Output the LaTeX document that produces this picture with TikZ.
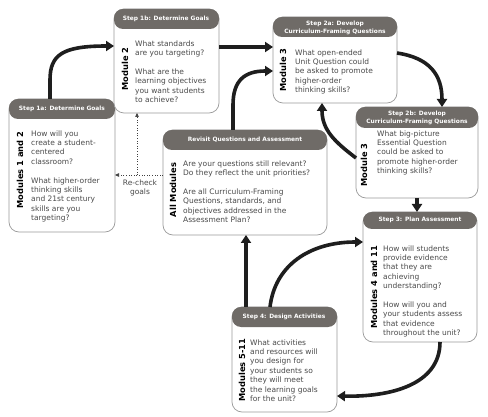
\documentclass[tikz,border=0pt]{standalone}
\usepackage{fontspec}
\setmainfont{DejaVu Sans}
\usetikzlibrary{calc,arrows.meta}
\definecolor{hdr}{HTML}{6F6B67}
\definecolor{bodytxt}{HTML}{4A4A4A}
\definecolor{edge}{HTML}{9A9A9A}
\definecolor{arr}{HTML}{1E1E1E}
\tikzset{
  stepframe/.style={draw=edge, line width=0.7pt, fill=white, rounded corners=10pt, outer sep=0pt, inner sep=0pt},
  hdrtxt/.style={text=white, font=\bfseries\fontsize{5.9}{7.6}\selectfont, align=center, inner sep=0pt},
  bodytext/.style={text=bodytxt, font=\fontsize{7.5}{9.4}\selectfont, align=left, inner sep=0pt, anchor=north west},
  modlabel/.style={text=black, font=\bfseries\fontsize{8.3}{10}\selectfont, rotate=90, inner sep=0pt},
  flow/.style={draw=arr, line width=3.6pt, -{Triangle[length=8pt,width=10pt]}},
  recheckline/.style={draw=arr!85, line width=0.6pt, dotted, -{Triangle[length=4pt,width=3.5pt]}},
}
\newcommand\mkstepbox[6]{%
  \node[stepframe, minimum width=#4pt, minimum height=#5pt, anchor=north west] (#1) at (#2,#3) {};
  \fill[hdr, rounded corners=9pt] (#1.north west) rectangle ($(#1.north east)+(0,#6)$);
}
\begin{document}
\begin{tikzpicture}[x=1pt, y=-1pt]
\useasboundingbox[fill=white] (0,0) rectangle (488,417);

% boxes
\mkstepbox{s1a}{9}{99}{106}{133}{20}
\mkstepbox{s1b}{114}{9}{105}{104}{20}
\mkstepbox{s2a}{273}{17}{124}{86}{20}
\mkstepbox{s2b}{356}{107}{122}{91}{21}
\mkstepbox{rev}{163}{130}{164}{105}{20}
\mkstepbox{s3}{363}{212}{114}{130}{17}
\mkstepbox{s4}{232}{307}{105}{105}{20}

% headers
\node[hdrtxt] (s1a-h) at (62,109) {Step 1a: Determine Goals};
\node[hdrtxt] (s1b-h) at (166,19) {Step 1b: Determine Goals};
\node[hdrtxt] (s2a-h) at (335,28) {Step 2a: Develop\\Curriculum-Framing Questions};
\node[hdrtxt] (s2b-h) at (417,118) {Step 2b: Develop\\Curriculum-Framing Questions};
\node[hdrtxt] (rev-h) at (245,140) {Revisit Questions and Assessment};
\node[hdrtxt] (s3-h) at (420,220) {Step 3: Plan Assessment};
\node[hdrtxt] (s4-h) at (284,317) {Step 4: Design Activities};

% module labels
\node[modlabel] (s1a-m) at (20,170) {Modules 1 and 2};
\node[modlabel] (s1b-m) at (125,69) {Module 2};
\node[modlabel] (s2a-m) at (283,70) {Module 3};
\node[modlabel] (s2b-m) at (364,165) {Module 3};
\node[modlabel] (rev-m) at (173,190) {All Modules};
\node[modlabel] (s3-m) at (374,287) {Modules 4 and 11};
\node[modlabel] (s4-m) at (242,370) {Modules 5-11};

% body texts
\node[bodytext] (s1a-t) at (31,130.3) {How will you\\create a student-\\centered\\classroom?\\[9.4pt]What higher-order\\thinking skills\\and 21st century\\skills are you\\targeting?};
\node[bodytext] (s1b-t) at (135,40.3) {What standards\\are you targeting?\\[9.4pt]What are the\\learning objectives\\you want students\\to achieve?};
\node[bodytext] (s2a-t) at (295,49.3) {What open-ended\\Unit Question could\\be asked to promote\\higher-order\\thinking skills?};
\node[bodytext] (s2b-t) at (377,130.3) {What big-picture\\Essential Question\\could be asked to\\promote higher-order\\thinking skills?};
\node[bodytext] (rev-t) at (183,160.3) {Are your questions still relevant?\\Do they reflect the unit priorities?\\[9.4pt]Are all Curriculum-Framing\\Questions, standards, and\\objectives addressed in the\\Assessment Plan?};
\node[bodytext] (s3-t) at (383,245.3) {How will students\\provide evidence\\that they are\\achieving\\understanding?\\[9.4pt]How will you and\\your students assess\\that evidence\\throughout the unit?};
\node[bodytext] (s4-t) at (250,339.3) {What activities\\and resources will\\you design for\\your students so\\they will meet\\the learning goals\\for the unit?};

% flow arrows
\draw[flow] ($(s1a.north west)+(41,0)$) -- ++(0,-19) .. controls +(0,-25) and ($(s1b.north west)+(-52,37)$) .. ($(s1b.north west)+(0,37)$);
\draw[flow] ($(s1b.north east)+(0,38)$) -- ($(s2a.north west)+(0,30)$);
\draw[flow] ($(rev.north west)+(70,0)$) -- ++(0,-25) .. controls +(0,-25) and ($(s2a.north west)+(-28,54)$) .. ($(s2a.north west)+(0,54)$);
\draw[flow] ($(s2a.north east)+(0,36)$) .. controls ($(s2a.north east)+(33,41)$) and ($(s2b.north west)+(86,-32)$) .. ($(s2b.north west)+(86,0)$);
\draw[flow] ($(s2b.south west)+(61,0)$) -- ($(s3.north west)+(54,0)$);
\draw[flow] ($(s3.south west)+(77,0)$) .. controls ($(s3.south west)+(77,43)$) and ($(s4.south east)+(53,-15)$) .. ($(s4.south east)+(0,-16)$);
\draw[flow] ($(s4.north west)+(14,0)$) -- ($(rev.south west)+(83,0)$);
\draw[flow] ($(s4.north west)+(38,0)$) .. controls ($(s4.north west)+(43,-42)$) and ($(s3.north west)+(-53,30)$) .. ($(s3.north west)+(0,30)$);
\draw[flow] ($(s2b.north west)+(0,51)$) .. controls ($(s2b.north west)+(-21,35)$) and ($(s2a.south west)+(49,27)$) .. ($(s2a.south west)+(49,0)$);

% re-check
\coordinate (rc) at ($(s1b.south west)+(23,62)$);
\draw[recheckline] ($(rev.north west)+(0,45)$) -- ($(s1a.north east)+(0,76)$);
\draw[recheckline] (rc) -- ($(s1b.south west)+(23,0)$);
\node[text=bodytxt, font=\fontsize{7.5}{9.4}\selectfont, align=center, inner sep=0pt] (recheck) at (140,188) {Re-check\\goals};
\end{tikzpicture}
\end{document}
